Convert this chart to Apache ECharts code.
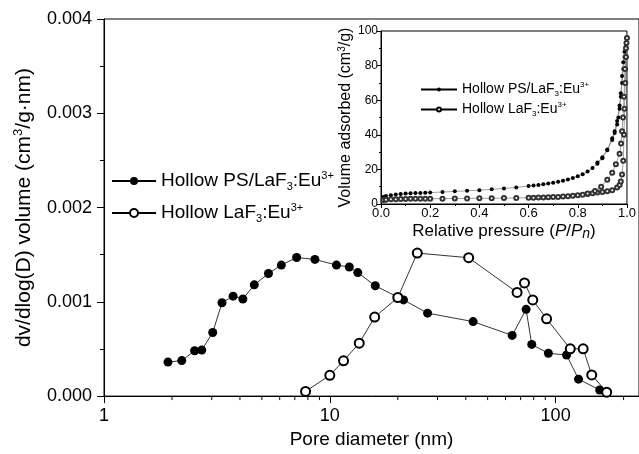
<!DOCTYPE html>
<html>
<head>
<meta charset="utf-8">
<script src="https://cdn.jsdelivr.net/npm/echarts@6/dist/echarts.min.js"></script>
<style>
html, body { margin: 0; padding: 0; background: #fff; }
#main { width: 639px; height: 454px; }
</style>
</head>
<body>
<div id="main"></div>
<script>
// pore size distribution (main plot): [diameter nm, dv/dlog(D)]
const psPore = [
    [1.92, 0.000361], [2.21, 0.000377], [2.52, 0.000481], [2.71, 0.000488], [3.03, 0.000675],
    [3.33, 0.00099], [3.73, 0.00106], [4.12, 0.00103], [4.63, 0.00118], [5.35, 0.0013],
    [6.10, 0.00139], [7.13, 0.00147], [8.59, 0.00145], [10.7, 0.00139], [12.2, 0.00137],
    [13.3, 0.00131], [15.9, 0.00117], [21.2, 0.00102], [27.1, 0.00088], [43.1, 0.00079],
    [64.2, 0.000644], [74.0, 0.00092], [78.4, 0.000548], [92.9, 0.000454], [111.8, 0.000436],
    [126.3, 0.00018], [156.7, 0.000065]
];
const lafPore = [
    [7.81, 0.000049], [10.0, 0.000221], [11.5, 0.000374], [13.5, 0.000561], [15.8, 0.000838],
    [20.0, 0.001046], [24.4, 0.001517], [41.2, 0.001468], [67.5, 0.0011], [72.8, 0.0012],
    [79.2, 0.00102], [91.2, 0.00082], [116.1, 0.000502], [132.4, 0.000502], [144.5, 0.000225],
    [168.3, 0.000042]
];
// nitrogen isotherm (inset): [P/P0, volume cm3/g], adsorption then desorption
const psIso = [
    [0.01, 4.0], [0.02, 4.6], [0.04, 5.1], [0.06, 5.5], [0.08, 5.8], [0.10, 6.0], [0.12, 6.2],
    [0.14, 6.3], [0.16, 6.4], [0.18, 6.5], [0.20, 6.6], [0.25, 6.9], [0.30, 7.3], [0.35, 7.6],
    [0.40, 8.0], [0.45, 8.5], [0.50, 9.0], [0.55, 9.6], [0.60, 10.4], [0.62, 10.7], [0.64, 11.0],
    [0.66, 11.4], [0.68, 11.8], [0.70, 12.3], [0.72, 12.8], [0.74, 13.4], [0.76, 14.1], [0.78, 15.0],
    [0.80, 16.0], [0.82, 17.2], [0.84, 18.8], [0.86, 20.8], [0.88, 23.3], [0.90, 26.5], [0.92, 31],
    [0.94, 37], [0.95, 41], [0.96, 46], [0.965, 50], [0.97, 55], [0.975, 62], [0.98, 70],
    [0.985, 78], [0.99, 85], [0.995, 91],
    [0.99, 88], [0.985, 82], [0.98, 74], [0.975, 64], [0.97, 57], [0.96, 48], [0.95, 42],
    [0.94, 38], [0.92, 31.5], [0.90, 27], [0.88, 24]
];
const lafIso = [
    [0.01, 2.3], [0.02, 2.5], [0.04, 2.7], [0.06, 2.8], [0.08, 2.9], [0.10, 2.9], [0.12, 3.0],
    [0.14, 3.0], [0.16, 3.0], [0.18, 3.1], [0.20, 3.1], [0.25, 3.1], [0.30, 3.2], [0.35, 3.2],
    [0.40, 3.3], [0.45, 3.3], [0.50, 3.4], [0.55, 3.5], [0.60, 3.6], [0.62, 3.6], [0.64, 3.7],
    [0.66, 3.8], [0.68, 3.9], [0.70, 4.0], [0.72, 4.1], [0.74, 4.3], [0.76, 4.5], [0.78, 4.8],
    [0.80, 5.1], [0.82, 5.4], [0.84, 5.8], [0.86, 6.2], [0.88, 6.6], [0.90, 7.0], [0.92, 7.4],
    [0.94, 8.0], [0.96, 9.5], [0.97, 11], [0.975, 13], [0.98, 17], [0.985, 25], [0.988, 40],
    [0.99, 55], [0.993, 70], [0.996, 85], [0.998, 93], [1.0, 96],
    [0.996, 90], [0.992, 78], [0.988, 62], [0.984, 50], [0.98, 42], [0.976, 35], [0.97, 29],
    [0.955, 23], [0.94, 18], [0.92, 14], [0.895, 10], [0.87, 7.5], [0.84, 6]
];
const seriesNames = ['Hollow PS/LaF3:Eu3+', 'Hollow LaF3:Eu3+'];
// log axis minor ticks
const poreMinorTicks = [2, 3, 4, 5, 6, 7, 8, 9, 20, 30, 40, 50, 60, 70, 80, 90, 200];

const FONT = 'Liberation Sans, Arial, sans-serif';

// "LaF3:Eu3+" -> subscript 3 / superscript 3+
function toRich(name) {
    return '{n|' + name.replace('F3:', 'F}{sub|3}{n|:').replace('Eu3+', 'Eu}{sup|3+') + '}';
}
function richStyle(size, lh) {
    let small = Math.round(size * 0.6);
    return {
        n: { fontSize: size, fontFamily: FONT, color: '#000', lineHeight: lh },
        sub: { fontSize: small, fontFamily: FONT, color: '#000', verticalAlign: 'bottom', lineHeight: small },
        sup: { fontSize: small, fontFamily: FONT, color: '#000', verticalAlign: 'top', lineHeight: small }
    };
}

let chart = echarts.init(document.getElementById('main'), null, { renderer: 'canvas' });

let option = {
    animation: false,
    backgroundColor: '#fff',
    textStyle: { fontFamily: FONT, color: '#000' },
    grid: [
        { left: 104, top: 19, width: 538, height: 385, show: true, borderColor: '#000', borderWidth: 1, backgroundColor: 'transparent' },
        { left: 381, top: 31, width: 248, height: 173, show: true, borderColor: '#000', borderWidth: 1, backgroundColor: '#fff' }
    ],
    legend: [
        {
            data: seriesNames,
            orient: 'vertical',
            left: 106,
            top: 165,
            itemWidth: 44,
            itemHeight: 10,
            itemGap: 10,
            selectedMode: false,
            formatter: toRich,
            textStyle: { rich: richStyle(19, 22) }
        },
        {
            data: seriesNames,
            orient: 'vertical',
            left: 415,
            top: 76,
            itemWidth: 36,
            itemHeight: 5,
            itemGap: 3,
            selectedMode: false,
            formatter: toRich,
            textStyle: { rich: richStyle(14, 17) }
        }
    ],
    xAxis: [
        {
            type: 'log',
            gridIndex: 0,
            min: 1,
            max: 234,
            logBase: 10,
            name: 'Pore diameter (nm)',
            nameLocation: 'middle',
            nameGap: 27,
            nameTextStyle: { fontSize: 19, color: '#000', fontFamily: FONT },
            axisLine: { onZero: false, lineStyle: { color: '#000', width: 1 } },
            axisTick: { inside: false, length: 7, lineStyle: { color: '#000' } },
            axisLabel: { fontSize: 18, color: '#000', margin: 11, showMaxLabel: false, fontFamily: FONT },
            splitLine: { show: false }
        },
        {
            type: 'value',
            gridIndex: 1,
            min: 0,
            max: 1,
            interval: 0.2,
            name: 'Relative pressure ({i|P}/{i|P}{isub|n})',
            nameLocation: 'middle',
            nameGap: 16,
            nameTextStyle: {
                fontSize: 17, color: '#000', fontFamily: FONT, verticalAlign: 'top', lineHeight: 20,
                rich: {
                    i: { fontSize: 17, fontStyle: 'italic', fontFamily: FONT, color: '#000', lineHeight: 20 },
                    isub: { fontSize: 14, fontStyle: 'italic', fontFamily: FONT, color: '#000', verticalAlign: 'bottom', lineHeight: 14 }
                }
            },
            axisLine: { onZero: false, lineStyle: { color: '#000', width: 1 } },
            axisTick: { length: 4, lineStyle: { color: '#000' } },
            minorTick: { show: true, splitNumber: 2, length: 2, lineStyle: { color: '#000' } },
            axisLabel: { fontSize: 13, color: '#000', margin: 3, fontFamily: FONT, formatter: v => v.toFixed(1) },
            splitLine: { show: false }
        }
    ],
    yAxis: [
        {
            type: 'value',
            gridIndex: 0,
            min: 0,
            max: 0.004,
            interval: 0.001,
            name: '{n|dv/dlog(D) volume (cm}{sup|3}{n|/g·nm)}',
            nameLocation: 'middle',
            nameGap: 68,
            nameTextStyle: { rich: richStyle(21, 24) },
            axisLine: { onZero: false, lineStyle: { color: '#000', width: 1 } },
            axisTick: { length: 7, lineStyle: { color: '#000' } },
            minorTick: { show: true, splitNumber: 2, length: 4, lineStyle: { color: '#000' } },
            axisLabel: { fontSize: 18, color: '#000', margin: 12, fontFamily: FONT, formatter: v => v.toFixed(3) },
            splitLine: { show: false }
        },
        {
            type: 'value',
            gridIndex: 1,
            min: 0,
            max: 100,
            interval: 20,
            name: '{n|Volume adsorbed (cm}{sup|3}{n|/g)}',
            nameLocation: 'middle',
            nameGap: 18,
            nameTextStyle: { rich: richStyle(16, 18) },
            axisLine: { onZero: false, lineStyle: { color: '#000', width: 1 } },
            axisTick: { length: 4, lineStyle: { color: '#000' } },
            minorTick: { show: true, splitNumber: 2, length: 2, lineStyle: { color: '#000' } },
            axisLabel: { fontSize: 12, color: '#000', margin: 3, fontFamily: FONT },
            splitLine: { show: false }
        }
    ],
    series: [
        {
            name: seriesNames[0],
            type: 'line',
            xAxisIndex: 0,
            yAxisIndex: 0,
            data: psPore,
            symbol: 'circle',
            symbolSize: 9,
            itemStyle: { color: '#000' },
            lineStyle: { color: '#000', width: 0.8 },
            z: 3
        },
        {
            name: seriesNames[1],
            type: 'line',
            xAxisIndex: 0,
            yAxisIndex: 0,
            data: lafPore,
            symbol: 'emptyCircle',
            symbolSize: 9,
            itemStyle: { color: '#000', borderWidth: 1 },
            lineStyle: { color: '#000', width: 0.8 },
            z: 3
        },
        {
            name: seriesNames[0],
            type: 'line',
            xAxisIndex: 1,
            yAxisIndex: 1,
            data: psIso,
            symbol: 'circle',
            symbolSize: 4,
            itemStyle: { color: '#000' },
            lineStyle: { color: '#777', width: 0.7 },
            z: 4
        },
        {
            name: seriesNames[1],
            type: 'line',
            xAxisIndex: 1,
            yAxisIndex: 1,
            data: lafIso,
            symbol: 'emptyCircle',
            symbolSize: 4,
            itemStyle: { color: '#333', borderWidth: 0.6 },
            lineStyle: { color: '#777', width: 0.7 },
            z: 4
        },
        {
            // minor ticks of the log axis
            type: 'custom',
            xAxisIndex: 0,
            yAxisIndex: 0,
            clip: false,
            silent: true,
            data: poreMinorTicks.map(v => [v, 0]),
            renderItem: function (params, api) {
                let p = api.coord([api.value(0), 0]);
                return {
                    type: 'line',
                    shape: { x1: p[0], y1: p[1], x2: p[0], y2: p[1] + 4 },
                    style: { stroke: '#000', lineWidth: 1 }
                };
            },
            z: 5
        }
    ]
};

chart.setOption(option);
</script>
</body>
</html>
